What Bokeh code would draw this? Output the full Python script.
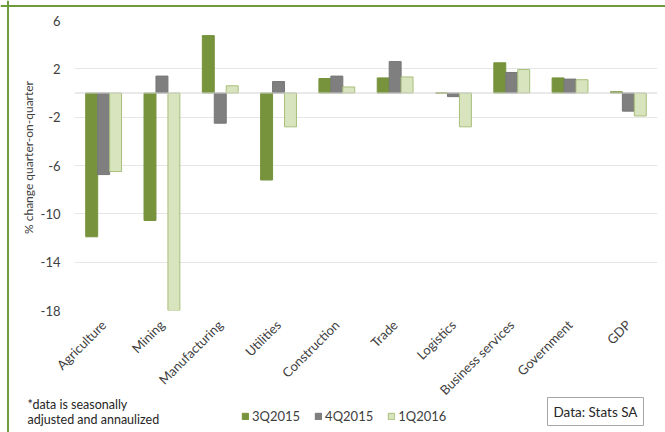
from bokeh.plotting import figure
from bokeh.layouts import column
from bokeh.models import (FactorRange, FixedTicker, Span, Label, Legend, LegendItem,
                          ColumnDataSource, Range1d)
from bokeh.transform import dodge
from bokeh.embed import file_html
from bokeh.resources import INLINE
import math

categories = ["Agriculture", "Mining", "Manufacturing", "Utilities", "Construction",
              "Trade", "Logistics", "Business services", "Government", "GDP"]
q3_2015 = [-11.9, -10.55, 4.75, -7.2, 1.2, 1.25, 0.0, 2.5, 1.25, 0.1]
q4_2015 = [-6.75, 1.4, -2.5, 0.95, 1.4, 2.6, -0.3, 1.7, 1.15, -1.5]
q1_2016 = [-6.5, -18.0, 0.6, -2.8, 0.5, 1.33, -2.8, 1.95, 1.1, -1.9]
series_names = ["3Q2015", "4Q2015", "1Q2016"]
y_ticks = [-18, -14, -10, -6, -2, 2, 6]
y_title = "% change quarter-on-quarter"
footnote = ["*data is seasonally", "adjusted and annaulized"]
source_note = "Data: Stats SA"

FONT = "Lato"
PW, PH = 665, 432          # whole picture
ML = 37                    # left margin of the chart canvas
fills = ["#77933C", "#7F7F7F", "#D7E4BD"]
lines = ["#77933C", "#777777", "#A9BF7C"]

source = ColumnDataSource(dict(cat=categories, a=q3_2015, b=q4_2015, c=q1_2016))

p = figure(width=PW - ML, height=PH, x_range=FactorRange(factors=categories),
           y_range=(-18, 6), output_backend="svg", toolbar_location=None,
           min_border_left=35, min_border_right=8, min_border_top=20,
           min_border_bottom=122, margin=(0, 0, 0, ML))
p.frame_align = False
p.outline_line_color = None
p.background_fill_color = None
p.border_fill_color = None

bw = 0.205
for fld, off, fc, lc in zip(["a", "b", "c"], [-bw, 0, bw], fills, lines):
    p.vbar(x=dodge("cat", off, range=p.x_range), top=fld, bottom=0, width=bw,
           source=source, fill_color=fc, line_color=lc, line_width=1)

p.add_layout(Span(location=0, dimension="width", line_color="#D4D4D4", line_width=1))

p.xgrid.grid_line_color = None
p.ygrid.grid_line_color = "#E6E6E6"
p.ygrid.ticker = FixedTicker(ticks=y_ticks)

p.yaxis.ticker = FixedTicker(ticks=y_ticks)
p.yaxis.major_label_overrides = {t: str(t) for t in y_ticks}
p.yaxis.axis_line_color = None
p.yaxis.major_tick_line_color = None
p.yaxis.minor_tick_line_color = None
p.yaxis.major_tick_out = 0
p.yaxis.major_tick_in = 0
p.yaxis.minor_tick_out = 0
p.yaxis.major_label_standoff = 14
p.yaxis.major_label_text_font = FONT
p.yaxis.major_label_text_font_size = "13px"
p.yaxis.major_label_text_color = "#404040"

p.xaxis.axis_line_color = None
p.xaxis.major_tick_line_color = None
p.xaxis.minor_tick_line_color = None
p.xaxis.major_tick_out = 0
p.xaxis.major_tick_in = 0
p.xaxis.major_label_orientation = math.pi / 4
p.xaxis.major_label_standoff = 12
p.xaxis.major_label_text_font = FONT
p.xaxis.major_label_text_font_size = "13px"
p.xaxis.major_label_text_color = "#404040"

# transparent overlay covering the whole picture: axis title, notes, legend, frame border
o = figure(width=PW, height=PH, x_range=Range1d(0, PW), y_range=Range1d(0, PH),
           output_backend="svg", toolbar_location=None, x_axis_type=None,
           y_axis_type=None, min_border=0, margin=(-PH, 0, 0, 0))
o.frame_align = False
o.outline_line_color = None
o.grid.visible = False
o.background_fill_color = None
o.border_fill_color = None

o.add_layout(Span(location=7.5, dimension="height", line_color="#6E9B3C", line_width=2))
o.add_layout(Span(location=PH - 5.5, dimension="width", line_color="#6E9B3C", line_width=2))

o.add_layout(Label(x=28, y=275, text=y_title, angle=math.pi / 2, text_font=FONT,
                   text_font_size="12px", text_color="#404040",
                   text_align="center", text_baseline="middle"))

placeholder = ColumnDataSource(dict(x=[float("nan")], top=[float("nan")]))
swatches = [o.vbar(x="x", top="top", width=1, source=placeholder,
                   fill_color=fc, line_color=lc)
            for fc, lc in zip(fills, lines)]
legend = Legend(items=[LegendItem(label=n, renderers=[r]) for n, r in zip(series_names, swatches)],
                orientation="horizontal", location=(241, 8),
                label_text_font=FONT, label_text_font_size="13px",
                label_text_color="#404040", glyph_width=8, glyph_height=8,
                label_height=12, label_standoff=3, spacing=14, padding=0, margin=0,
                border_line_color=None, background_fill_alpha=0)
o.add_layout(legend, "center")

for txt, yy in zip(footnote, [28.5, 13]):
    o.add_layout(Label(x=27, y=yy, text=txt, text_font=FONT, text_font_size="12.5px",
                       text_color="#262626", text_baseline="middle"))

o.add_layout(Label(x=547, y=21, text=source_note, text_font=FONT, text_font_size="13.5px",
                   text_color="#262626", text_baseline="middle",
                   border_line_color="#A6A6A6", background_fill_color="white", padding=6))

layout = column(p, o, spacing=0)

open("out.html", "w").write(file_html(layout, INLINE))
